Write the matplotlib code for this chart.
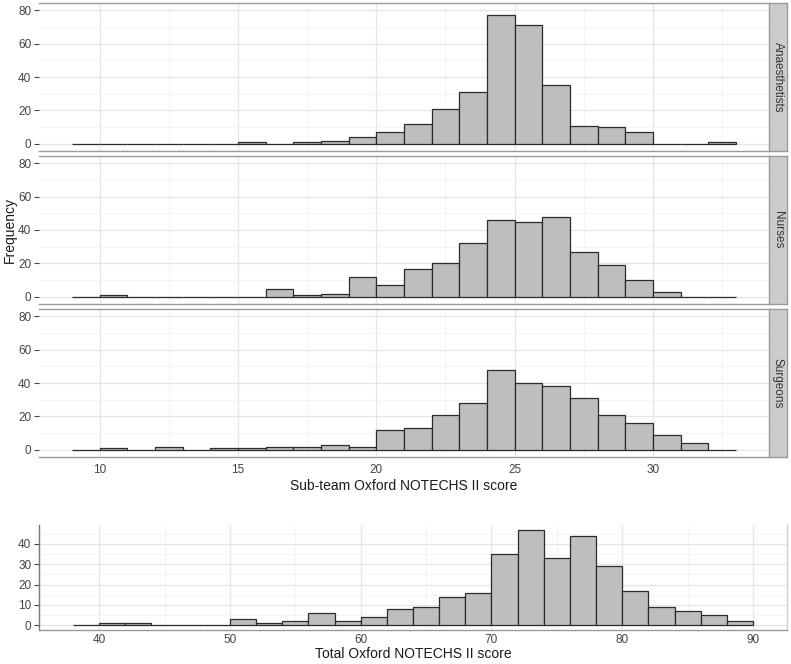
import matplotlib
matplotlib.use('Agg')
import matplotlib.pyplot as plt
from matplotlib.ticker import MultipleLocator

plt.rcParams['font.family'] = ['Liberation Sans', 'DejaVu Sans']

# ---- data ----
sub_edges = list(range(9, 33))          # left edges of width-1 bins, 9..32
groups = ['Anaesthetists', 'Nurses', 'Surgeons']
anaesthetists = [0, 0, 0, 0, 0, 0, 1, 0, 1, 2, 4, 7, 12, 21, 31, 77, 71, 35, 11, 10, 7, 0, 0, 1]
nurses = [0, 1, 0, 0, 0, 0, 0, 5, 1, 2, 12, 7, 17, 20, 32, 46, 45, 48, 27, 19, 10, 3, 0, 0]
surgeons = [0, 1, 0, 2, 0, 1, 1, 2, 2, 3, 2, 12, 13, 21, 28, 48, 40, 38, 31, 21, 16, 9, 4, 0]
sub_ticks = [10, 15, 20, 25, 30]
sub_yticks = [0, 20, 40, 60, 80]

total_edges = list(range(38, 90, 2))    # left edges of width-2 bins, 38..88
total_counts = [0, 1, 1, 0, 0, 0, 3, 1, 2, 6, 2, 4, 8, 9, 14, 16, 35, 47, 33, 44, 29, 17, 9, 7, 5, 2]
total_ticks = [40, 50, 60, 70, 80, 90]
total_yticks = [0, 10, 20, 30, 40]

W, H = 791, 664
fig = plt.figure(figsize=(W / 100, H / 100), dpi=100)
fig.patch.set_facecolor('white')

BAR_FC = '#bebebe'
BAR_EC = '#2b2b2b'
TICK_C = '#444444'
GRID_MAJ = '#e6e6e6'
GRID_MIN = '#f3f3f3'
BORDER = '#9a9a9a'
TICK_FS = 8.5
LABEL_FS = 10


def rect(l, t, r, b):
    return [l / W, 1 - b / H, (r - l) / W, (b - t) / H]


def style(ax, xlim, ylim, xticks, yticks, xminor, yminor, show_xlabels, xpad):
    ax.set_xlim(*xlim)
    ax.set_ylim(*ylim)
    ax.set_xticks(xticks)
    ax.set_yticks(yticks)
    ax.xaxis.set_minor_locator(MultipleLocator(xminor))
    ax.yaxis.set_minor_locator(MultipleLocator(yminor))
    ax.set_axisbelow(True)
    ax.grid(which='major', color=GRID_MAJ, lw=0.9)
    ax.grid(which='minor', color=GRID_MIN, lw=0.6)
    ax.tick_params(axis='y', which='major', length=3.5, width=0.8, color=TICK_C,
                   labelsize=TICK_FS, labelcolor=TICK_C, pad=2)
    ax.tick_params(axis='x', which='major', length=0, labelsize=TICK_FS,
                   labelcolor=TICK_C, pad=xpad, labelbottom=show_xlabels)
    ax.tick_params(which='minor', length=0)


sub_panels = [(3, 151), (156, 304), (309, 457)]
sub_data = [anaesthetists, nurses, surgeons]
for i, (grp, counts) in enumerate(zip(groups, sub_data)):
    t, b = sub_panels[i]
    ax = fig.add_axes(rect(39, t, 769, b))
    ax.bar(sub_edges, counts, width=1, align='edge', color=BAR_FC,
           edgecolor=BAR_EC, linewidth=0.9)
    style(ax, (7.8, 34.2), (-4.2, 84.2), sub_ticks, sub_yticks, 2.5, 10, i == 2, 5)
    for s in ['left', 'right']:
        ax.spines[s].set_visible(False)
    for s in ['top', 'bottom']:
        ax.spines[s].set_color(BORDER)
        ax.spines[s].set_linewidth(1.0)
    # facet strip
    sx = fig.add_axes(rect(769, t, 787, b))
    sx.set_facecolor('#cccccc')
    sx.set_xticks([])
    sx.set_yticks([])
    for s in sx.spines.values():
        s.set_color(BORDER)
        s.set_linewidth(1.0)
    sx.text(0.5, 0.5, grp, rotation=270, ha='center', va='center',
            fontsize=8.5, color='#333333', transform=sx.transAxes)
    if i == 2:
        ax.set_xlabel('Sub-team Oxford NOTECHS II score', fontsize=LABEL_FS,
                      color='#1a1a1a', labelpad=2)

fig.text(10 / W, 1 - 230 / H, 'Frequency', rotation=90, ha='center',
         va='center', fontsize=LABEL_FS, color='#1a1a1a')

# ---- total panel ----
ax = fig.add_axes(rect(39, 525, 787, 630))
ax.bar(total_edges, total_counts, width=2, align='edge', color=BAR_FC,
       edgecolor=BAR_EC, linewidth=0.9)
style(ax, (35.4, 92.6), (-2.35, 49.35), total_ticks, total_yticks, 5, 5, True, 3)
ax.spines['top'].set_visible(False)
ax.spines['left'].set_color('#777777')
ax.spines['bottom'].set_color(BORDER)
ax.spines['right'].set_color('#cfcfcf')
for s in ax.spines.values():
    s.set_linewidth(1.0)
ax.set_xlabel('Total Oxford NOTECHS II score', fontsize=LABEL_FS, color='#1a1a1a',
              labelpad=0.5)

fig.savefig('out.png', dpi=100, facecolor='white')
